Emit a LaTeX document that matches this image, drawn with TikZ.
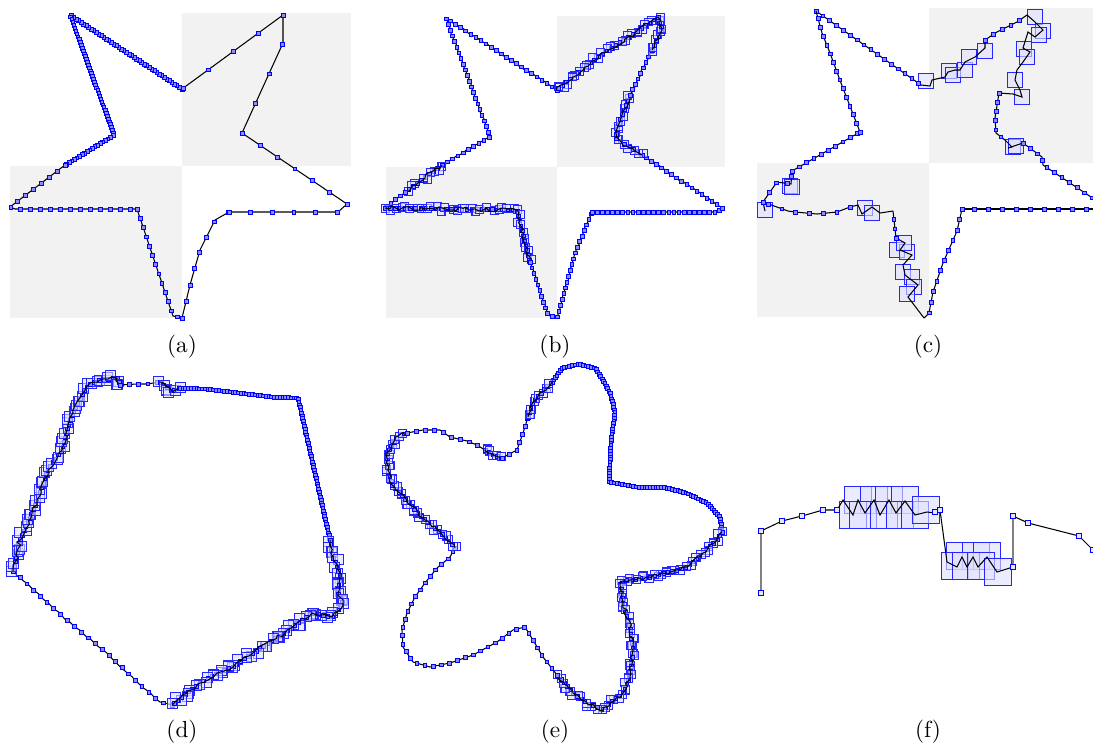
\documentclass[tikz,border=0pt]{standalone}
\usetikzlibrary{decorations.markings,decorations.pathmorphing}

\tikzset{
  trace/.style={line width=0.45pt},
  bg/.style={fill=gray!10},
  sample/.style={draw=blue, fill=blue!45, line width=0.3pt, inner sep=0pt, minimum size=1.6pt},
  box/.style={draw=blue!85, fill=blue!12, fill opacity=0.6, line width=0.45pt, inner sep=0pt, minimum size=#1},
  pts/.style={postaction={decorate, decoration={markings,
    mark=between positions 0 and 1 step #1 with {\node[sample] {};}}}},
  boxes/.style 2 args={postaction={decorate, decoration={markings,
    mark=between positions 0 and 1 step #1 with {\node[box=#2, xshift=0.3*rand*#2, yshift=0.3*rand*#2] {}; \node[sample] {};}}}},
  shaky/.style 2 args={postaction={draw, trace, decorate, decoration={random steps, segment length=#1, amplitude=#2}}},
  lift/.style={gray, line width=0.9pt}
}

\begin{document}
\begin{tikzpicture}[x=0.43pt, y=-0.43pt]
\pgfmathsetseed{11}
\clip (0,0) rectangle (1093,752);

% (a)
\fill[bg] (182,13) rectangle (351,166);
\fill[bg] (10,166) rectangle (182,318);
\draw[trace, pts=1.3pt] (182,89) -- (70,15) -- (114,135) -- (65,165);
\draw[trace, pts=4.3pt] (65,165) -- (10,207) -- (15,209) -- (137,209);
\draw[trace, pts=4.2pt] (137,209) -- (173,316) -- (182,318);
\draw[trace, pts=7.3pt] (182,318) -- (190,285) -- (200,250) -- (215,220) -- (229,212);
\draw[trace, pts=9.3pt] (229,212) -- (338,212) -- (347,204);
\draw[trace, pts=9pt] (347,204) -- (242,133);
\draw[trace, pts=14pt] (242,133) -- (283,43) -- (283,15);
\draw[trace, pts=13.3pt] (283,15) -- (182,89);
\node (la) at (182,347) {(a)};

% (b)
\fill[bg] (557,16) rectangle (725,167);
\fill[bg] (386,167) rectangle (557,318);
\path[shaky={2.4pt}{0.35pt}, pts=2.6pt] (557,90) -- (446,18) -- (490,137) -- (442,165);
\path[boxes={2.2pt}{3.4pt}, shaky={1.6pt}{0.9pt}] (442,165) -- (405,192);
\path[shaky={2.4pt}{0.35pt}, pts=2.6pt] (405,192) -- (385,208);
\path[boxes={2.2pt}{3.4pt}, shaky={1.6pt}{0.9pt}] (385,208) -- (517,210) -- (530,262);
\path[shaky={2.4pt}{0.35pt}, pts=2.6pt] (530,262) -- (548,315) -- (557,318) -- (575,253) -- (592,212);
\draw[trace, pts=2.2pt] (592,212) -- (718,212) -- (722,208);
\path[shaky={2.4pt}{0.35pt}, pts=2.6pt] (722,208) -- (642,155);
\path[boxes={2.2pt}{3.4pt}, shaky={1.6pt}{0.9pt}] (642,155) -- (615,138) -- (622,115) -- (630,95);
\path[shaky={2.4pt}{0.35pt}, pts=2.6pt] (630,95) -- (652,50);
\path[boxes={2.2pt}{3.4pt}, shaky={1.6pt}{0.9pt}] (652,50) -- (662,30) -- (658,17) -- (635,33) -- (608,50) -- (585,67) -- (557,90);
\node (lb) at (555,347) {(b)};

% (c)
\fill[bg] (929,8) rectangle (1101,163);
\fill[bg] (757,163) rectangle (929,317);
\foreach \x/\y in {926/81, 949/71, 953/75, 965/70, 969/57, 985/51, 1035/17, 1043/31, 1039/35,
    1024/49, 1027/57, 1015/80, 1022/97, 1013/147, 1016/146, 790/186, 792/187, 765/210,
    865/208, 872/213, 897/250, 907/252, 904/243, 903/272, 912/277, 914/287, 907/294}
  \node[box=6.4pt] at (\x,\y) {};
\draw[trace, pts=3.6pt] (816,11) -- (921,85);
\draw[trace] (921,85) -- (930,86) -- (932,80) -- (945,77) -- (948,72) -- (955,70) -- (960,70)
  -- (965,62) -- (975,57) -- (985,48) -- (985,40);
\draw[trace, pts=4.3pt] (985,40) -- (997,32) -- (1017,22) -- (1027,15);
\draw[trace] (1027,15) -- (1035,22) -- (1043,30) -- (1035,37) -- (1028,32) -- (1023,48)
  -- (1030,52) -- (1023,62) -- (1017,70) -- (1015,80) -- (1020,90) -- (1022,97) -- (1013,94) -- (999,93);
\draw[trace, pts=4pt] (999,93) -- (995,118) -- (996,133) -- (1005,140);
\draw[trace] (1005,140) -- (1012,147) -- (1008,148) -- (1023,143);
\draw[trace, pts=3.9pt] (1023,143) -- (1042,157) -- (1043,165) -- (1100,203);
\draw[trace, pts=6pt] (1100,209) -- (962,209);
\draw[trace, pts=4.7pt] (962,209) -- (957,231) -- (943,263) -- (933,292) -- (929,313) -- (924,318);
\draw[trace] (924,318) -- (908,297) -- (918,285) -- (905,275) -- (903,265) -- (912,255)
  -- (900,250) -- (905,243) -- (896,238);
\draw[trace, pts=4pt] (896,238) -- (893,211);
\draw[trace] (893,211) -- (880,213) -- (872,207) -- (862,214) -- (858,205) -- (850,207);
\draw[trace, pts=6pt] (850,207) -- (837,212) -- (817,214) -- (795,212) -- (788,211) -- (763,202);
\draw[trace] (763,202) -- (765,211);
\draw[trace, pts=5pt] (763,202) -- (777,182) -- (791,184) -- (792,171);
\draw[trace, pts=3.6pt] (792,171) -- (860,132);
\draw[trace, pts=4pt] (860,132) -- (841,83) -- (830,53) -- (822,33) -- (816,11);
\node (lc) at (928,347) {(c)};

% (d)
\path[shaky={3pt}{0.35pt}, pts=3.9pt] (172,705) -- (160,702) -- (137,682) -- (107,653) -- (75,627) -- (43,599) -- (13,571);
\path[boxes={2pt}{4.3pt}, shaky={1.8pt}{1pt}] (13,571) -- (20,540) -- (32,513) -- (37,500) -- (48,470)
  -- (62,450) -- (67,430) -- (73,413) -- (83,393) -- (88,385) -- (100,380) -- (117,378) -- (120,385);
\draw[trace, pts=4pt] (120,385) -- (137,384) -- (147,384) -- (160,382);
\path[boxes={2pt}{4.3pt}, shaky={1.8pt}{1pt}] (160,382) -- (172,392) -- (180,388);
\draw[trace, pts=1.2pt] (180,388) -- (207,389) -- (240,393) -- (273,397) -- (298,398) -- (330,540);
\path[boxes={2pt}{4.3pt}, shaky={1.8pt}{1pt}] (330,540) -- (333,557) -- (340,575) -- (338,593)
  -- (343,605) -- (332,617) -- (312,613) -- (293,627) -- (273,640) -- (253,653) -- (233,667)
  -- (217,673) -- (200,683) -- (187,693) -- (172,705);
\node (ld) at (182,732) {(d)};

% (e)
\draw[trace, pts=1.2pt] (552,382) -- (562,368) -- (578,364) -- (595,368) -- (603,380)
  -- (610,393) -- (615,412) -- (611,440) -- (609,482) -- (637,487) -- (663,487) -- (687,493)
  -- (707,503) -- (720,517) -- (722,532);
\path[boxes={2pt}{3.5pt}, shaky={1.6pt}{0.8pt}] (722,532) -- (717,540) -- (703,553)
  -- (687,567) -- (670,572) -- (650,577) -- (630,580) -- (620,582) -- (623,603) -- (630,627)
  -- (633,650) -- (630,677) -- (623,693) -- (610,703) -- (603,710) -- (587,703) -- (573,693) -- (557,675);
\draw[trace, pts=3.6pt] (557,675) -- (543,657) -- (533,640) -- (525,627) -- (513,630)
  -- (497,642) -- (473,655) -- (450,663) -- (430,667) -- (413,662) -- (403,647) -- (402,630)
  -- (407,613) -- (415,597) -- (425,583) -- (437,568) -- (450,557) -- (455,548);
\path[boxes={2pt}{3.5pt}, shaky={1.6pt}{0.8pt}] (455,548) -- (450,542) -- (437,530)
  -- (425,520) -- (410,505) -- (400,493) -- (392,485) -- (388,470) -- (387,453) -- (392,445)
  -- (398,436) -- (407,433);
\draw[trace, pts=4pt] (407,433) -- (423,430) -- (440,430) -- (450,437) -- (467,441) -- (477,445) -- (485,450);
\path[boxes={2pt}{3.5pt}, shaky={1.6pt}{0.8pt}] (485,450) -- (493,455) -- (502,458);
\draw[trace, pts=3.6pt] (502,458) -- (517,450) -- (523,433) -- (528,417);
\path[boxes={2pt}{3.5pt}, shaky={1.6pt}{0.8pt}] (528,417) -- (533,402) -- (542,392) -- (552,382);
\node (le) at (555,732) {(e)};

% (f)
\draw[lift] (761,593) -- (761,531);
\draw[lift] (1013,567) -- (1013,516);
\foreach \x/\y in {858/500, 874/500, 889/500, 905/500, 853/515, 863/515, 884/515, 900/515, 915/515,
    926/510, 960/556, 976/556, 987/556, 955/566, 966/566, 981/566, 998/572}
  \node[box=11.6pt] at (\x,\y) {};
\draw[trace] (761,531) -- (782,521) -- (802,516) -- (823,510) -- (837,510) -- (843,500) -- (853,515)
  -- (858,500) -- (865,513) -- (874,500) -- (880,515) -- (889,500) -- (896,513) -- (905,501)
  -- (915,515) -- (927,512) -- (935,513) -- (940,510) -- (947,562) -- (957,567) -- (962,557)
  -- (967,567) -- (973,557) -- (978,567) -- (987,557) -- (997,572) -- (1013,567);
\draw[trace] (1013,516) -- (1028,523) -- (1079,536) -- (1095,552);
\foreach \x/\y in {761/593, 761/531, 782/521, 802/516, 823/510, 837/510, 935/512, 940/510,
    1013/567, 1013/516, 1028/523, 1079/536, 1093/550}
  \node[sample, minimum size=2.4pt, fill=blue!10] at (\x,\y) {};
\node (lf) at (928,732) {(f)};
\end{tikzpicture}
\end{document}
